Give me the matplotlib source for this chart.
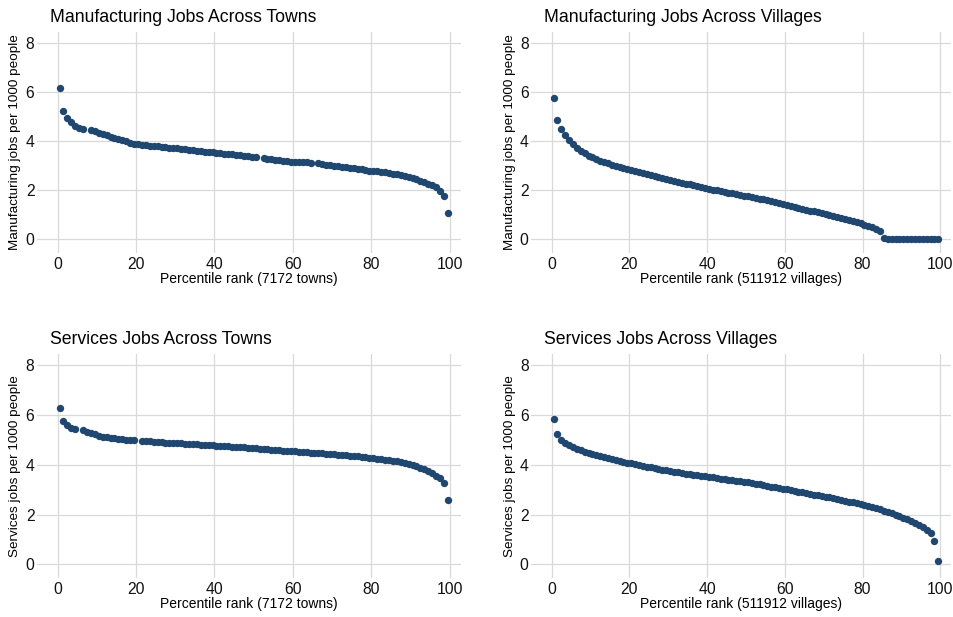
import matplotlib
matplotlib.use("Agg")
import matplotlib.pyplot as plt
import numpy as np

plt.rcParams["font.family"] = ["Liberation Sans", "DejaVu Sans"]

# percentile positions (towns have a few empty percentiles because of ties)
pct_all = [i + 0.5 for i in range(100)]
pct_mfg_towns = [p for p in pct_all if p not in (7.5, 51.5, 65.5)]
pct_srv_towns = [p for p in pct_all if p not in (5.5, 20.5)]

mfg_towns = [
    6.18, 5.22, 4.95, 4.77, 4.62, 4.54, 4.50,
    4.45, 4.40, 4.35, 4.30, 4.24, 4.19, 4.14, 4.10, 4.05, 4.00, 3.95, 3.91,
    3.88, 3.86, 3.84, 3.82, 3.80, 3.79, 3.77, 3.76, 3.74, 3.72,
    3.71, 3.69, 3.67, 3.65, 3.63, 3.61, 3.59, 3.57, 3.56, 3.55,
    3.54, 3.52, 3.50, 3.48, 3.47, 3.45, 3.44, 3.42, 3.40, 3.38,
    3.36,
    3.31, 3.29, 3.26, 3.24, 3.22, 3.20, 3.18, 3.17,
    3.16, 3.16, 3.15, 3.14, 3.13,
    3.10, 3.08, 3.05, 3.03,
    3.01, 2.99, 2.97, 2.95, 2.92, 2.90, 2.88, 2.86, 2.84, 2.81,
    2.79, 2.77, 2.75, 2.73, 2.71, 2.68, 2.65, 2.62, 2.59, 2.56,
    2.52, 2.46, 2.40, 2.33, 2.26, 2.20, 2.12, 1.97, 1.76, 1.06,
]

mfg_villages = [
    5.77, 4.87, 4.52, 4.27, 4.07, 3.89, 3.73, 3.61, 3.51, 3.42,
    3.34, 3.27, 3.21, 3.15, 3.10, 3.05, 3.00, 2.96, 2.92, 2.88,
    2.84, 2.80, 2.76, 2.72, 2.68, 2.64, 2.60, 2.56, 2.52, 2.48,
    2.44, 2.40, 2.36, 2.32, 2.28, 2.24, 2.20, 2.17, 2.13, 2.09,
    2.06, 2.03, 2.00, 1.97, 1.94, 1.91, 1.88, 1.85, 1.82, 1.79,
    1.76, 1.73, 1.69, 1.66, 1.63, 1.59, 1.56, 1.53, 1.49, 1.46,
    1.42, 1.38, 1.34, 1.30, 1.26, 1.22, 1.18, 1.14, 1.10, 1.06,
    1.02, 0.98, 0.94, 0.90, 0.86, 0.82, 0.78, 0.74, 0.70, 0.66,
    0.61, 0.56, 0.51, 0.44, 0.35, 0.07, 0.0, 0.0, 0.0, 0.0,
    0.0, 0.0, 0.0, 0.0, 0.0, 0.0, 0.0, 0.0, 0.0, 0.0,
]

srv_towns = [
    6.30, 5.76, 5.60, 5.50, 5.44,
    5.40, 5.33, 5.28, 5.23, 5.18, 5.14, 5.11, 5.09, 5.07, 5.05,
    5.03, 5.01, 5.00, 4.99,
    4.97, 4.96, 4.95, 4.94, 4.93, 4.92, 4.90, 4.89, 4.88,
    4.87, 4.86, 4.85, 4.84, 4.83, 4.82, 4.81, 4.80, 4.79, 4.78,
    4.77, 4.76, 4.75, 4.74, 4.73, 4.72, 4.71, 4.70, 4.68, 4.67,
    4.66, 4.65, 4.64, 4.63, 4.61, 4.60, 4.59, 4.57, 4.56, 4.55,
    4.54, 4.53, 4.52, 4.51, 4.49, 4.48, 4.47, 4.46, 4.45, 4.43,
    4.42, 4.41, 4.39, 4.38, 4.36, 4.35, 4.34, 4.32, 4.30, 4.28,
    4.26, 4.24, 4.22, 4.21, 4.19, 4.17, 4.14, 4.12, 4.09, 4.05,
    4.01, 3.95, 3.89, 3.83, 3.75, 3.66, 3.56, 3.47, 3.29, 2.59,
]

srv_villages = [
    5.84, 5.23, 5.02, 4.89, 4.79, 4.71, 4.64, 4.58, 4.52, 4.47,
    4.42, 4.38, 4.34, 4.30, 4.26, 4.23, 4.19, 4.16, 4.12, 4.09,
    4.06, 4.03, 4.00, 3.97, 3.93, 3.90, 3.87, 3.84, 3.81, 3.78,
    3.75, 3.72, 3.70, 3.67, 3.64, 3.62, 3.60, 3.58, 3.56, 3.54,
    3.52, 3.50, 3.47, 3.45, 3.43, 3.41, 3.39, 3.36, 3.34, 3.32,
    3.30, 3.27, 3.24, 3.22, 3.19, 3.16, 3.13, 3.10, 3.08, 3.05,
    3.02, 2.99, 2.96, 2.93, 2.90, 2.87, 2.84, 2.81, 2.78, 2.75,
    2.72, 2.69, 2.66, 2.62, 2.59, 2.55, 2.52, 2.49, 2.45, 2.41,
    2.37, 2.33, 2.29, 2.25, 2.21, 2.16, 2.11, 2.06, 2.00, 1.94,
    1.88, 1.81, 1.74, 1.66, 1.58, 1.49, 1.40, 1.25, 0.96, 0.13,
]

panels = [
    # (title, ylabel, xlabel, x, y, axes rect)
    ("Manufacturing Jobs Across Towns", "Manufacturing jobs per 1000 people",
     "Percentile rank (7172 towns)", pct_mfg_towns, mfg_towns,
     [0.039, 0.590, 0.444, 0.358]),
    ("Manufacturing Jobs Across Villages", "Manufacturing jobs per 1000 people",
     "Percentile rank (511912 villages)", pct_all, mfg_villages,
     [0.557, 0.590, 0.440, 0.358]),
    ("Services Jobs Across Towns", "Services jobs per 1000 people",
     "Percentile rank (7172 towns)", pct_srv_towns, srv_towns,
     [0.039, 0.063, 0.444, 0.363]),
    ("Services Jobs Across Villages", "Services jobs per 1000 people",
     "Percentile rank (511912 villages)", pct_all, srv_villages,
     [0.557, 0.063, 0.440, 0.363]),
]

DOT = "#1f4770"
GRID = "#d9d9d9"

fig = plt.figure(figsize=(9.54, 6.17), dpi=100)

for title, ylab, xlab, x, y, rect in panels:
    ax = fig.add_axes(rect)
    ax.plot(x, y, "o", color=DOT, markersize=5.3, markeredgewidth=0)
    ax.set_xlim(-5.2, 102.8)
    ax.set_ylim(-0.55, 8.45)
    ax.set_xticks(np.arange(0, 101, 20))
    ax.set_yticks(np.arange(0, 9, 2))
    ax.grid(True, color=GRID, linewidth=0.9)
    ax.set_axisbelow(True)
    for s in ax.spines.values():
        s.set_visible(False)
    ax.tick_params(length=0, labelsize=11.3, colors="#111111", pad=2)
    ax.tick_params(axis="x", pad=3)
    ax.set_xlabel(xlab, fontsize=10, labelpad=0)
    ax.set_ylabel(ylab, fontsize=9.7, labelpad=3)
    ax.text(0.03, 1.065, title, transform=ax.transAxes, fontsize=12.7,
            ha="left", va="center")

fig.savefig("out.png", dpi=100)
